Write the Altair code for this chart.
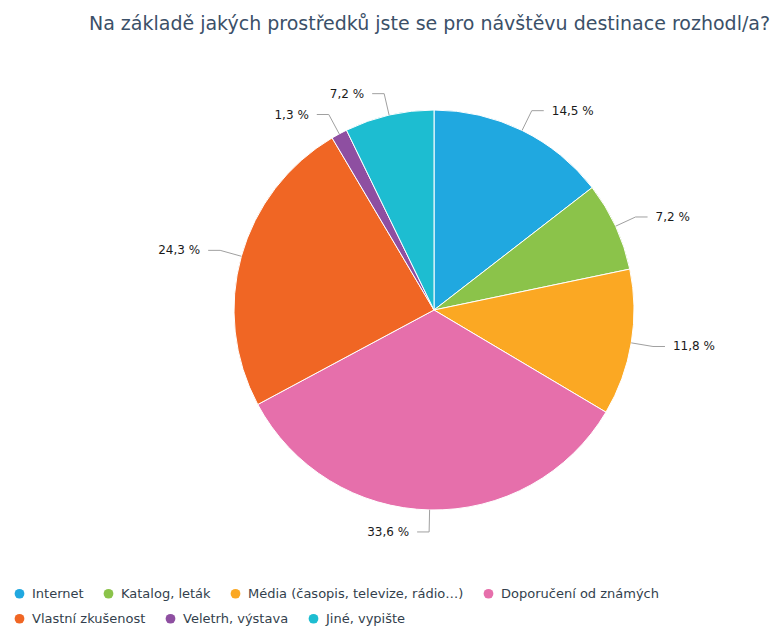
import altair as alt
import pandas as pd

categories = ["Internet", "Katalog, leták", "Média (časopis, televize, rádio…)",
              "Doporučení od známých", "Vlastní zkušenost", "Veletrh, výstava", "Jiné, vypište"]
values = [14.5, 7.2, 11.8, 33.6, 24.3, 1.3, 7.2]
colors = ["#20a8e0", "#8bc34a", "#fba823", "#e66fab", "#f06624", "#8e4fa1", "#1dbdd1"]
legend_row = [1, 1, 1, 1, 2, 2, 2]

df = pd.DataFrame({"cat": categories, "value": values,
                   "idx": list(range(len(values))), "row": legend_row})

CX, CY, R = 426, 262, 200
R2 = 222
HSEG = 12
GAP = 8

base = alt.Chart(df).transform_window(
    cum="sum(value)", sort=[alt.SortField("idx")], frame=[None, 0]
).transform_joinaggregate(
    total="sum(value)"
).transform_calculate(
    mid="(datum.cum - datum.value/2)/datum.total*2*PI",
    label="replace(format(datum.value, '.1f'), '.', ',') + ' %'",
).transform_calculate(
    side="sin(datum.mid) >= 0 ? 1 : -1",
    ax=f"{CX} + {R}*sin(datum.mid)",
    ay=f"{CY} - {R}*cos(datum.mid)",
    bx=f"{CX} + {R2}*sin(datum.mid)",
    by=f"{CY} - {R2}*cos(datum.mid)",
).transform_calculate(
    cxp=f"datum.bx + datum.side*{HSEG}",
    tx=f"datum.bx + datum.side*{HSEG + GAP}",
)


def legend_layer(row, ly):
    cats = [c for c, r in zip(categories, legend_row) if r == row]
    cols = [c for c, r in zip(colors, legend_row) if r == row]
    return alt.Chart(df).transform_filter(f"datum.row == {row}").mark_circle(
        size=1, opacity=0
    ).encode(
        x=alt.value(CX), y=alt.value(CY),
        color=alt.Color(
            "cat:N",
            scale=alt.Scale(domain=cats, range=cols),
            sort=cats,
            legend=alt.Legend(
                title=None, orient="none", legendX=5, legendY=ly,
                direction="horizontal",
                symbolType="circle", symbolSize=95, symbolStrokeWidth=0,
                symbolOpacity=1,
                labelFont="DejaVu Sans", labelFontSize=13, labelColor="#333f4d",
                labelOffset=6, columnPadding=18, symbolOffset=0, padding=0,
                labelLimit=400,
            ),
        ),
    )


leg1 = legend_layer(1, 539)
leg2 = legend_layer(2, 564)

arcs = alt.Chart(df).mark_arc(stroke="white", strokeWidth=1).encode(
    theta=alt.Theta("value:Q", stack=True),
    order=alt.Order("idx:Q"),
    color=alt.Color(
        "cat:N",
        scale=alt.Scale(domain=categories, range=colors),
        sort=categories,
        legend=None,
    ),
    x=alt.value(CX), y=alt.value(CY), radius=alt.value(R),
)

rule1 = base.mark_rule(color="#a0a0a0", strokeWidth=1).encode(
    x=alt.X("ax:Q", scale=None), y=alt.Y("ay:Q", scale=None),
    x2="bx:Q", y2="by:Q",
)
rule2 = base.mark_rule(color="#a0a0a0", strokeWidth=1).encode(
    x=alt.X("bx:Q", scale=None), y=alt.Y("by:Q", scale=None),
    x2="cxp:Q", y2="by:Q",
)
txt_r = base.transform_filter("datum.side > 0").mark_text(
    align="left", baseline="middle", font="DejaVu Sans", fontSize=12, color="#1a1a1a"
).encode(x=alt.X("tx:Q", scale=None), y=alt.Y("by:Q", scale=None), text="label:N")
txt_l = base.transform_filter("datum.side < 0").mark_text(
    align="right", baseline="middle", font="DejaVu Sans", fontSize=12, color="#1a1a1a"
).encode(x=alt.X("tx:Q", scale=None), y=alt.Y("by:Q", scale=None), text="label:N")

chart = alt.layer(leg1, leg2, arcs, rule1, rule2, txt_r, txt_l).resolve_scale(
    color="independent"
).resolve_legend(
    color="independent"
).properties(
    width=763, height=579,
    autosize=alt.AutoSizeParams(type="none"),
    padding={"top": 40, "left": 0, "right": 0, "bottom": 0},
    title=alt.TitleParams(
        "Na základě jakých prostředků jste se pro návštěvu destinace rozhodl/a?",
        font="DejaVu Sans", fontSize=19, fontWeight="normal", color="#3b5068",
        anchor="middle", dx=40, offset=14,
    ),
).configure_view(stroke=None)

chart.save("out.html", embed_options={"renderer": "svg", "actions": False})
